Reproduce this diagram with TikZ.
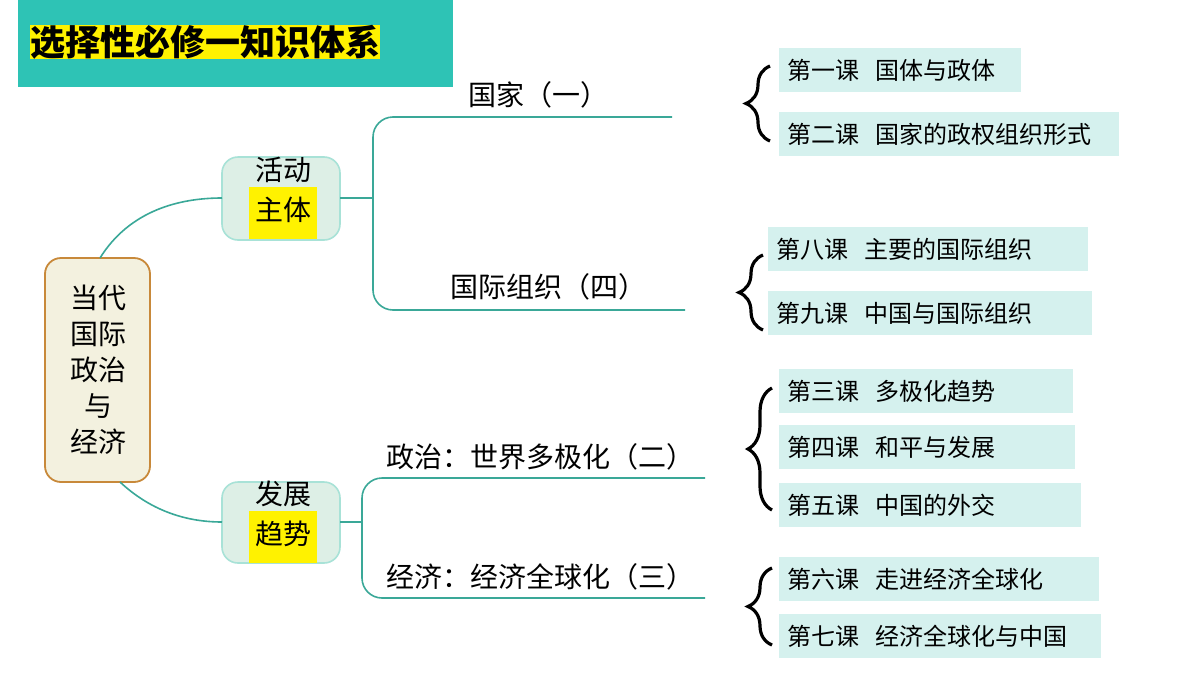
\documentclass[tikz,border=0pt]{standalone}
\usepackage{fontspec}
\setmainfont{Noto Sans CJK SC}
\usetikzlibrary{decorations.pathreplacing}
\definecolor{teal1}{HTML}{2EC3B5}
\definecolor{line1}{HTML}{3AA898}
\definecolor{boxg}{HTML}{DDEFE6}
\definecolor{boxc}{HTML}{D5F1EE}
\definecolor{cream}{HTML}{F3F1DF}
\definecolor{brn}{HTML}{C8893A}
\tikzset{
  topic/.style={draw=boxg!70!teal1, line width=0.8pt, fill=boxg, rounded corners=8pt},
  lesson/.style={fill=boxc, anchor=west, minimum height=22pt, text width=#1, inner xsep=4pt, font=\fontsize{12}{14}\selectfont},
  branch/.style={line1, line width=0.8pt},
  brc/.style={decorate, decoration={brace, amplitude=12pt}, line width=1.6pt}
}
\begin{document}
\begin{tikzpicture}[x=0.5pt, y=-0.5pt]
  \useasboundingbox (0,0) rectangle (1200,675);
  \fill[white] (0,0) rectangle (1200,675);

  \fill[teal1] (18,0) rectangle (453,87);
  \node[anchor=west, inner sep=0pt, font=\fontsize{17.5}{19}\bfseries\selectfont, fill=yellow] (title) at (30,42) {选择性必修一知识体系};

  \draw[draw=brn, line width=0.9pt, fill=cream, rounded corners=8pt] (45,258) rectangle (150,482);
  \node[align=center, font=\fontsize{14}{18}\selectfont] (main) at (98,370) {当代\\国际\\政治\\与\\经济};

  \draw[topic] (222,157) rectangle (340,240);
  \node[align=center, inner sep=0pt, font=\fontsize{14}{20}\selectfont] (act) at (283,198) {活动\\\colorbox{yellow}{\strut 主体}};
  \draw[topic] (222,482) rectangle (340,563);
  \node[align=center, inner sep=0pt, font=\fontsize{14}{20}\selectfont] (dev) at (283,522) {发展\\\colorbox{yellow}{\strut 趋势}};

  \draw[branch] (100,258) .. controls (130,210) and (180,198) .. (222,198);
  \draw[branch] (120,482) .. controls (150,510) and (185,522) .. (222,522);

  \draw[branch] (340,198) -- (373,198);
  \draw[branch, rounded corners=10pt] (672,117) -- (373,117) -- (373,310) -- (685,310);
  \draw[branch] (340,522) -- (362,522);
  \draw[branch, rounded corners=10pt] (705,478) -- (362,478) -- (362,598) -- (705,598);

  \node[font=\fontsize{14}{16}\selectfont] (gj) at (538,95) {国家（一）};
  \node[font=\fontsize{14}{16}\selectfont] (gjzz) at (548,287) {国际组织（四）};
  \node[font=\fontsize{14}{16}\selectfont] (zz) at (540,457) {政治：世界多极化（二）};
  \node[font=\fontsize{14}{16}\selectfont] (jj) at (540,577) {经济：经济全球化（三）};

  \draw[brc] (770,141) -- (770,66);
  \draw[brc] (763,330) -- (763,255);
  \draw[brc] (772,510) -- (772,388);
  \draw[brc] (772,645) -- (772,568);

  \node[lesson=113pt] (k1) at (779,70) {第一课\ \ 国体与政体};
  \node[lesson=162pt] (k2) at (779,134) {第二课\ \ 国家的政权组织形式};
  \node[lesson=152pt] (k8) at (768,249) {第八课\ \ 主要的国际组织};
  \node[lesson=154pt] (k9) at (768,313) {第九课\ \ 中国与国际组织};
  \node[lesson=139pt] (k3) at (779,391) {第三课\ \ 多极化趋势};
  \node[lesson=140pt] (k4) at (779,447) {第四课\ \ 和平与发展};
  \node[lesson=143pt] (k5) at (779,505) {第五课\ \ 中国的外交};
  \node[lesson=152pt] (k6) at (779,579) {第六课\ \ 走进经济全球化};
  \node[lesson=153pt] (k7) at (779,636) {第七课\ \ 经济全球化与中国};
\end{tikzpicture}
\end{document}
